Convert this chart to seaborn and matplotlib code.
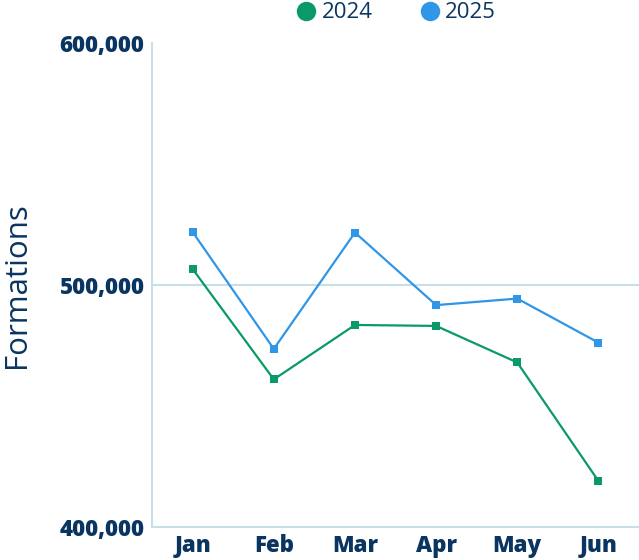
import matplotlib
matplotlib.use("Agg")
import matplotlib.pyplot as plt
import seaborn as sns
import pandas as pd
from matplotlib.lines import Line2D

months = ["Jan", "Feb", "Mar", "Apr", "May", "Jun"]
series_2024 = [506600, 461000, 483500, 483100, 468000, 419000]
series_2025 = [521900, 473600, 521700, 491700, 494400, 476200]
y_ticks = [400000, 500000, 600000]
y_tick_labels = ["400,000", "500,000", "600,000"]

df = pd.DataFrame({
    "month": months * 2,
    "x": list(range(len(months))) * 2,
    "value": series_2024 + series_2025,
    "year": ["2024"] * len(months) + ["2025"] * len(months),
})

sns.set_theme(style="white")
plt.rcParams['font.family'] = ['Open Sans', 'DejaVu Sans']

navy = "#0b3561"
green = "#0a9a68"
blue = "#2f96e8"
axis_c = "#c8dfe9"

fig = plt.figure(figsize=(6.39, 5.60), dpi=100)
ax = fig.add_axes([0.238, 0.059, 0.762, 0.864])

sns.lineplot(data=df, x="x", y="value", hue="year", palette={"2024": green, "2025": blue},
             marker="s", markersize=5.5, markeredgewidth=0, linewidth=1.6, ax=ax, legend=False)

ax.axhline(500000, color=axis_c, linewidth=1.5, zorder=0)
ax.set_xlim(-0.5, 5.5)
ax.set_ylim(400000, 600000)
ax.set_xticks(range(len(months)))
ax.set_xticklabels(months)
ax.set_yticks(y_ticks)
ax.set_yticklabels(y_tick_labels)
ax.tick_params(axis="both", length=0, labelsize=16, labelcolor=navy)
for lbl in ax.get_xticklabels() + ax.get_yticklabels():
    lbl.set_fontweight(800)
ax.tick_params(axis="y", pad=5.5)
ax.tick_params(axis="x", pad=5)
ax.set_xlabel("")
ax.set_ylabel("Formations", fontsize=22.5, color=navy, labelpad=20)
for s in ["top", "right"]:
    ax.spines[s].set_visible(False)
for s in ["left", "bottom"]:
    ax.spines[s].set_color(axis_c)
    ax.spines[s].set_linewidth(1.5)

handles = [Line2D([], [], marker="o", linestyle="", markersize=14, color=green, markeredgewidth=0),
           Line2D([], [], marker="o", linestyle="", markersize=14, color=blue, markeredgewidth=0)]
leg = fig.legend(handles, ["2024", "2025"], loc="center", bbox_to_anchor=(0.617, 0.977), ncol=2,
                 frameon=False, fontsize=16, handletextpad=0.1, columnspacing=1.97, handlelength=1.2)
for t in leg.get_texts():
    t.set_color(navy)

fig.savefig("out.png", dpi=100)
